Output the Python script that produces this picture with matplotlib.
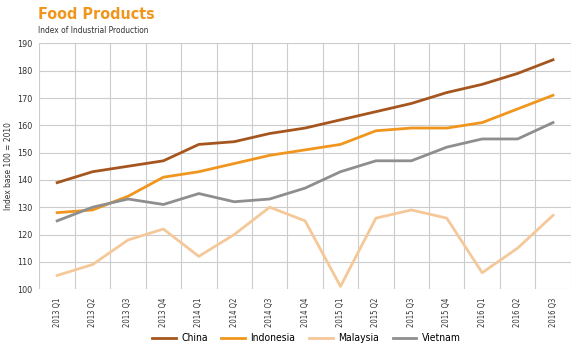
import matplotlib.pyplot as plt
import numpy as np

quarters = ["2013 Q1", "2013 Q2", "2013 Q3", "2013 Q4",
            "2014 Q1", "2014 Q2", "2014 Q3", "2014 Q4",
            "2015 Q1", "2015 Q2", "2015 Q3", "2015 Q4",
            "2016 Q1", "2016 Q2", "2016 Q3"]
china = [139, 143, 145, 147, 153, 154, 157, 159, 162, 165, 168, 172, 175, 179, 184]
indonesia = [128, 129, 134, 141, 143, 146, 149, 151, 153, 158, 159, 159, 161, 166, 171]
malaysia = [105, 109, 118, 122, 112, 120, 130, 125, 101, 126, 129, 126, 106, 115, 127]
vietnam = [125, 130, 133, 131, 135, 132, 133, 137, 143, 147, 147, 152, 155, 155, 161]

series = [("China", china, "#a5561f"),
          ("Indonesia", indonesia, "#f0961e"),
          ("Malaysia", malaysia, "#f5c89a"),
          ("Vietnam", vietnam, "#8e8e8e")]

plt.rcParams["font.family"] = ["DejaVu Sans"]
plt.rcParams["font.stretch"] = "condensed"

fig = plt.figure(figsize=(5.8, 3.53), dpi=100)
ax = fig.add_axes([0.068, 0.181, 0.916, 0.696])

x = np.arange(len(quarters))
for name, vals, col in series:
    ax.plot(x, vals, color=col, linewidth=2.0, label=name)

ax.set_xlim(-0.5, len(quarters) - 0.5)
ax.set_ylim(100, 190)
ax.set_yticks(range(100, 191, 10))
ax.set_xticks(x)
ax.set_xticklabels(quarters, rotation=90, fontsize=5.5)
ax.set_xticks(np.arange(-0.5, len(quarters), 1), minor=True)
ax.tick_params(axis="both", length=0, colors="#333333")
ax.tick_params(axis="y", labelsize=6.5, pad=5)
ax.tick_params(axis="x", pad=6)
ax.tick_params(axis="x", which="minor", length=0)
ax.grid(axis="x", which="minor", color="#cccccc", linewidth=0.8)
ax.grid(axis="y", which="major", color="#cccccc", linewidth=0.8)
ax.set_axisbelow(True)
for s in ax.spines.values():
    s.set_visible(False)

ax.set_ylabel("Index base 100 = 2010", fontsize=6, color="#333333", labelpad=3)

fig.text(0.065, 0.958, "Food Products", fontsize=11.5, fontweight="bold",
         color="#f0961e", ha="left", va="center")
fig.text(0.065, 0.915, "Index of Industrial Production", fontsize=6,
         color="#333333", ha="left", va="center")

fig.legend(loc="center", bbox_to_anchor=(0.528, 0.042), ncol=4, frameon=False,
           fontsize=7.5, handlelength=2.3, columnspacing=1.3, handletextpad=0.5)

plt.savefig("out.png", dpi=100)
